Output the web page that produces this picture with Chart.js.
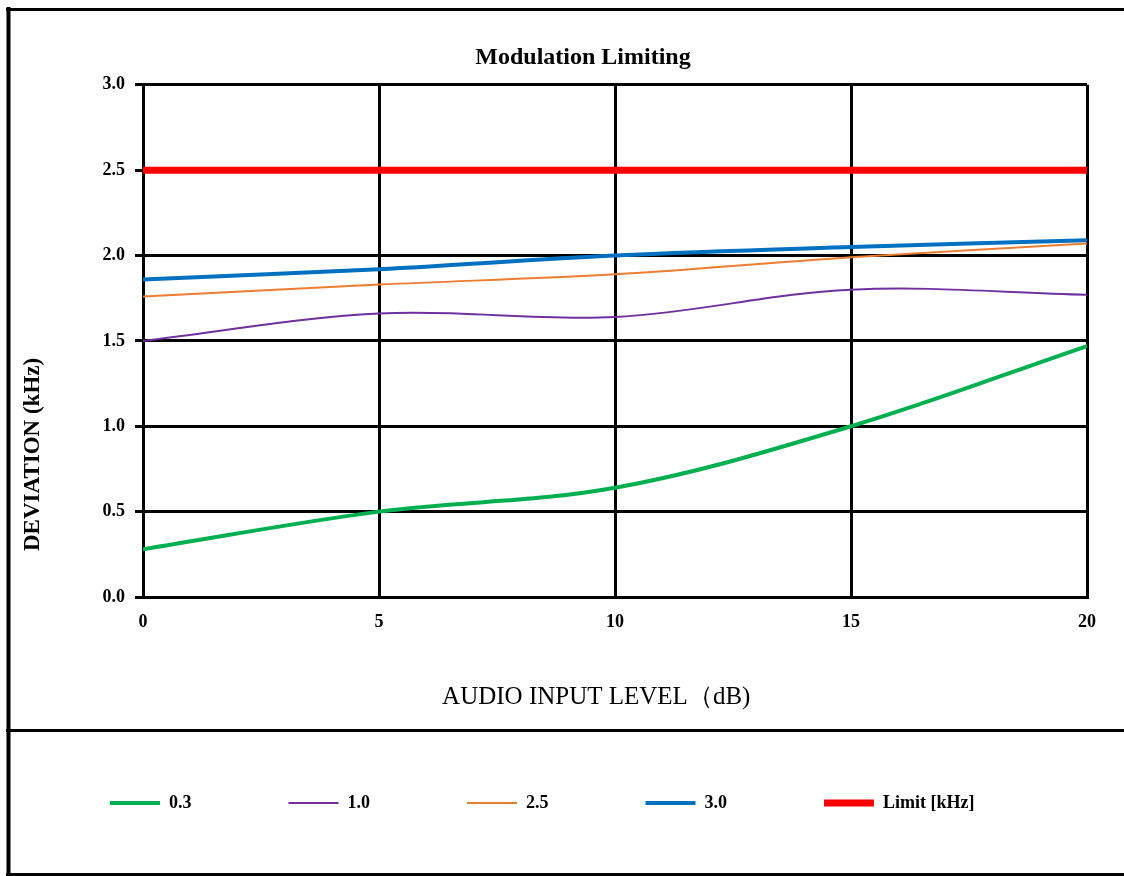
<!DOCTYPE html>
<html>
<head>
<meta charset="utf-8">
<script src="https://cdn.jsdelivr.net/npm/chart.js@4/dist/chart.umd.min.js"></script>
<style>
  html, body { margin: 0; padding: 0; background: #fff; }
  #wrap { position: relative; width: 1124px; height: 876px; }
</style>
</head>
<body>
<div id="wrap"><canvas id="chartLine" width="1124" height="876"></canvas></div>
<script>
const audioLevels = [0, 5, 10, 15, 20];
const seriesNames = ['0.3', '1.0', '2.5', '3.0', 'Limit [kHz]'];
const dev03 = [0.28, 0.50, 0.64, 1.00, 1.47];
const dev10 = [1.50, 1.66, 1.64, 1.80, 1.77];
const dev25 = [1.76, 1.83, 1.89, 1.99, 2.07];
const dev30 = [1.86, 1.92, 2.00, 2.05, 2.09];
const limitKHz = [2.5, 2.5, 2.5, 2.5, 2.5];
const yTicks = [0, 0.5, 1.0, 1.5, 2.0, 2.5, 3.0];

const serif = "'Liberation Serif', 'Times New Roman', serif";

const toPoints = (values) => values.map((v, i) => ({ x: audioLevels[i], y: v }));

// outer frame and legend box, like the spreadsheet export
const framePlugin = {
  id: 'frame',
  afterDraw(chart) {
    const ctx = chart.ctx;
    ctx.save();
    ctx.strokeStyle = '#000';
    ctx.lineWidth = 4;
    ctx.beginPath();
    ctx.moveTo(8.5, 7);
    ctx.lineTo(8.5, 876);
    ctx.stroke();
    ctx.lineWidth = 3;
    ctx.beginPath();
    ctx.moveTo(6, 9.5);
    ctx.lineTo(1124, 9.5);
    ctx.moveTo(6, 730.5);
    ctx.lineTo(1124, 730.5);
    ctx.moveTo(6, 874.5);
    ctx.lineTo(1124, 874.5);
    ctx.stroke();
    ctx.restore();
  }
};

const dataLine = {
  datasets: [
    { label: seriesNames[0], data: toPoints(dev03), borderColor: '#00B050', backgroundColor: '#00B050', borderWidth: 4 },
    { label: seriesNames[1], data: toPoints(dev10), borderColor: '#7030A0', backgroundColor: '#7030A0', borderWidth: 2 },
    { label: seriesNames[2], data: toPoints(dev25), borderColor: '#ED7D31', backgroundColor: '#ED7D31', borderWidth: 2 },
    { label: seriesNames[3], data: toPoints(dev30), borderColor: '#0070C0', backgroundColor: '#0070C0', borderWidth: 4 },
    { label: seriesNames[4], data: toPoints(limitKHz), borderColor: '#FF0000', backgroundColor: '#FF0000', borderWidth: 7 }
  ]
};

const configLine = {
  type: 'line',
  data: dataLine,
  options: {
    responsive: false,
    animation: false,
    elements: {
      point: { radius: 0, pointStyle: 'line' },
      line: { tension: 0.35, borderCapStyle: 'round' }
    },
    layout: { padding: { left: 13, right: 37, top: 0, bottom: 54 } },
    plugins: {
      title: {
        display: true,
        // leading spaces nudge the title right, where the original sits
        text: '           Modulation Limiting',
        color: '#000',
        font: { family: serif, size: 24, weight: 'bold' },
        padding: { top: 43, bottom: 13 }
      },
      legend: {
        position: 'bottom',
        align: 'start',
        labels: {
          usePointStyle: true,
          pointStyle: 'line',
          pointStyleWidth: 50,
          padding: 97,
          color: '#000',
          font: { family: serif, size: 18, weight: 'bold' }
        }
      },
      tooltip: { enabled: false }
    },
    scales: {
      x: {
        type: 'linear',
        min: 0,
        max: 20,
        afterBuildTicks: (scale) => { scale.ticks = audioLevels.map(v => ({ value: v })); },
        afterFit: (scale) => { scale.height = 100; },
        grid: { color: '#000', lineWidth: 3, drawTicks: false },
        border: { color: '#000', width: 3 },
        ticks: {
          padding: 15,
          color: '#000',
          font: { family: serif, size: 18, weight: 'bold' },
          maxRotation: 0
        },
        title: {
          display: true,
          text: 'AUDIO INPUT LEVEL（dB)      ',
          color: '#000',
          font: { family: serif, size: 25 },
          padding: { top: 0, bottom: -15 }
        }
      },
      y: {
        min: 0,
        max: 3,
        afterBuildTicks: (scale) => { scale.ticks = yTicks.map(v => ({ value: v })); },
        afterFit: (scale) => { scale.width = 130; },
        grid: { color: '#000', lineWidth: 3, tickLength: 8 },
        border: { color: '#000', width: 3 },
        ticks: {
          padding: 10,
          color: '#000',
          font: { family: serif, size: 18, weight: 'bold' },
          callback: (v) => Number(v).toFixed(1)
        },
        title: {
          display: true,
          align: 'start',
          text: '        DEVIATION (kHz)',
          color: '#000',
          font: { family: serif, size: 23, weight: 'bold' },
          padding: { top: 6, bottom: 10 }
        }
      }
    }
  },
  plugins: [framePlugin]
};

const chartLine = new Chart(document.getElementById('chartLine'), configLine);
</script>
</body>
</html>
